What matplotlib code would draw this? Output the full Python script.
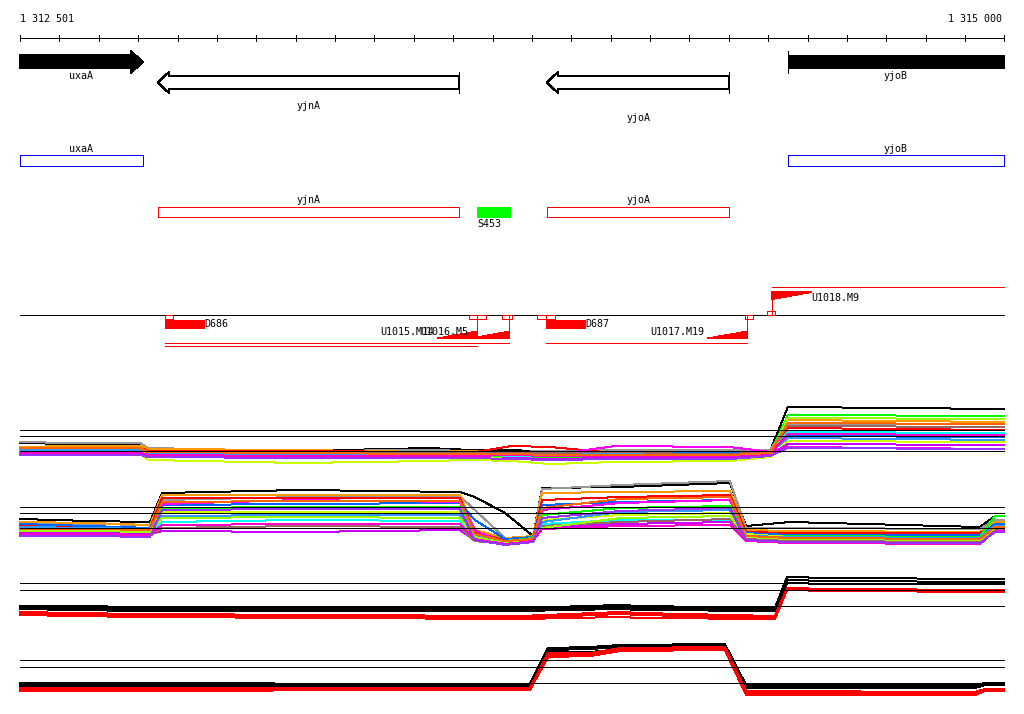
import matplotlib
matplotlib.use("Agg")
import matplotlib.pyplot as plt
from matplotlib.patches import Polygon, Rectangle

W, H = 1024, 714
START, END = 1312501, 1315000
TICK_STEP = 100

# genes of the region
gene_names = ["uxaA", "yjnA", "yjoA", "yjoB"]
gene_starts = [1312400, 1312851, 1313839, 1314451]
gene_ends = [1312813, 1313616, 1314302, 1315200]
gene_strands = ["+", "-", "-", "+"]
gene_label_y = [76, 106, 118, 76]

# small RNA
srna_names = ["S453"]
srna_starts = [1313662]
srna_ends = [1313745]

# upstream / terminator elements
up_names = ["D686", "D687"]
up_starts = [1312869, 1313837]
up_ends = [1312968, 1313936]

term_names = ["U1015.M14", "U1016.M5", "U1017.M19", "U1018.M9"]
term_pos = [1313662, 1313743, 1314347, 1314411]
term_len = [102, 97, 101, 99]
term_strand = ["-", "-", "-", "+"]

site_starts = [1312869, 1313641, 1313662, 1313725, 1313814, 1313837, 1314342, 1314398]
site_ends = [1312890, 1313662, 1313684, 1313750, 1313837, 1313860, 1314363, 1314418]
site_strand = ["-", "-", "-", "-", "-", "-", "-", "+"]

tx_starts = [1312869, 1312869, 1313837, 1314411]
tx_ends = [1313743, 1313662, 1314347, 1315000]
tx_y = [343, 346, 343, 287]

# expression track A (plus strand tiling)
a_x = [1312501, 1312628, 1312806, 1312826, 1313212, 1313542, 1313644,
       1313750, 1313847, 1314012, 1314304, 1314406, 1314451, 1315000]
a_series = [
    [32, 31, 31, 25, 24, 27, 25, 25, 23, 23, 23, 24, 68, 66],
    [33, 32, 32, 27, 24, 25, 24, 23, 24, 25, 25, 25, 51, 51],
    [28, 29, 29, 26, 25, 23, 24, 23, 23, 22, 23, 23, 55, 53],
    [27, 27, 27, 24, 24, 23, 22, 29, 28, 22, 22, 23, 47, 45],
    [25, 25, 25, 23, 22, 23, 23, 22, 21, 23, 22, 23, 39, 38],
    [23, 23, 23, 21, 20, 20, 20, 20, 20, 29, 28, 23, 28, 26],
    [24, 24, 24, 22, 21, 21, 19, 18, 18, 19, 18, 21, 60, 59],
    [22, 22, 22, 15, 12, 14, 15, 14, 11, 13, 14, 18, 34, 33],
    [24, 24, 24, 22, 21, 22, 21, 19, 19, 20, 20, 22, 43, 42],
    [21, 21, 21, 20, 19, 18, 18, 17, 16, 17, 17, 20, 31, 30],
    [26, 26, 26, 23, 23, 22, 22, 22, 22, 22, 21, 23, 49, 48],
    [25, 25, 25, 22, 21, 21, 20, 20, 20, 21, 19, 22, 37, 35],
    [23, 23, 23, 20, 18, 18, 18, 16, 15, 16, 16, 19, 57, 56],
    [22, 22, 22, 20, 19, 19, 19, 20, 19, 19, 19, 21, 41, 40],
    [27, 27, 27, 23, 22, 21, 21, 21, 20, 20, 20, 22, 52, 51],
    [20, 20, 20, 18, 17, 17, 17, 16, 15, 16, 16, 19, 27, 26],
]

# expression track B (minus strand tiling)
b_x = [1312501, 1312679, 1312831, 1312862, 1313212, 1313618, 1313656, 1313733, 1313804,
       1313827, 1314025, 1314304, 1314345, 1314456, 1314939, 1314977, 1315000]
b_series = [
    [33, 31, 30, 59, 62, 60, 55, 39, 16, 64, 65, 69, 26, 30, 25, 36, 36],
    [29, 28, 27, 52, 55, 56, 42, 14, 15, 63, 67, 71, 24, 24, 23, 32, 32],
    [30, 29, 27, 57, 57, 57, 22, 14, 16, 59, 60, 61, 22, 21, 20, 30, 30],
    [26, 25, 24, 54, 54, 54, 19, 12, 14, 52, 55, 57, 20, 19, 19, 27, 27],
    [28, 26, 24, 47, 48, 49, 32, 13, 15, 47, 50, 52, 19, 17, 17, 28, 28],
    [23, 22, 22, 48, 52, 50, 22, 7, 11, 42, 49, 52, 14, 11, 10, 22, 22],
    [24, 24, 23, 44, 45, 45, 17, 11, 14, 37, 44, 46, 17, 16, 15, 36, 36],
    [22, 22, 21, 40, 40, 40, 15, 9, 12, 32, 37, 39, 18, 15, 14, 25, 25],
    [20, 20, 19, 30, 32, 31, 14, 10, 12, 28, 32, 32, 15, 14, 13, 24, 24],
    [19, 19, 18, 21, 20, 22, 12, 8, 11, 25, 28, 30, 14, 13, 12, 23, 23],
    [17, 16, 16, 24, 26, 25, 11, 8, 10, 26, 30, 33, 13, 12, 11, 22, 22],
    [25, 24, 23, 36, 37, 37, 16, 10, 13, 30, 40, 42, 16, 15, 14, 26, 26],
    [21, 21, 20, 34, 35, 34, 15, 9, 12, 24, 34, 36, 15, 13, 12, 24, 24],
    [18, 18, 17, 27, 28, 28, 13, 8, 11, 23, 26, 27, 11, 9, 8, 21, 21],
    [23, 23, 22, 50, 51, 51, 18, 11, 13, 44, 53, 55, 16, 14, 13, 25, 25],
    [16, 16, 15, 42, 43, 43, 12, 7, 10, 34, 41, 44, 12, 10, 9, 20, 20],
]

colors16 = ["black", "#999999", "#ff9900", "#ff0000", "#0066ff", "#ff00ff",
            "#00ff00", "#ccff00", "#00ffff", "#cc00ff", "#996666", "#3399ff",
            "#99ff00", "#ff00cc", "#ff6600", "#9933ff"]

# expression track C (plus strand, two conditions)
c_x = [1312501, 1312641, 1312806, 1313288, 1313771, 1314025, 1314076,
       1314418, 1314449, 1314558, 1315000]
c_series = [
    [22, 22, 21, 21, 20, 23, 22, 20, 51, 50, 49],
    [20, 20, 19, 19, 18, 21, 20, 18, 48, 47, 46],
    [19, 18, 17, 17, 17, 19, 18, 17, 45, 44, 44],
    [16, 15, 14, 13, 12, 16, 15, 12, 40, 39, 38],
    [14, 14, 12, 11, 10, 14, 13, 10, 39, 38, 37],
    [13, 12, 11, 10, 9, 11, 10, 9, 38, 37, 36],
]

# expression track D (minus strand, two conditions)
d_x = [1312501, 1313796, 1313842, 1313949, 1314025, 1314291, 1314345,
       1314926, 1314952, 1315000]
d_series = [
    [22, 21, 57, 58, 60, 61, 20, 20, 22, 22],
    [20, 20, 55, 56, 58, 59, 18, 18, 21, 21],
    [18, 19, 53, 53, 56, 57, 17, 17, 20, 20],
    [17, 17, 52, 52, 57, 58, 14, 13, 16, 16],
    [15, 16, 50, 50, 55, 56, 12, 12, 15, 15],
    [14, 15, 48, 49, 54, 55, 10, 10, 14, 14],
]
colors_cd = ["black", "black", "black", "red", "red", "red"]

ref_ab = [45, 39, 24]
ref_cd = [45, 38, 22]

FONT = "DejaVu Sans Mono"
FS = 7.2
LW = 0.72

bpp = (END - START) / 984
xlim = (START - 20 * bpp, END + 20 * bpp)

fig = plt.figure(figsize=(W / 100, H / 100), dpi=100)
ax = fig.add_axes([0, 0, 1, 1])
ax.set_xlim(xlim)
ax.set_ylim(H, 0)
ax.axis("off")


def outline(s, e, y0, y1, color):
    ax.plot([s, e, e, s, s], [y0, y0, y1, y1, y0], color=color, lw=LW,
            antialiased=False, zorder=3)


# ruler
ax.plot([START, END], [38, 38], color="black", lw=LW, antialiased=False)
for t in range(START, END + 2, TICK_STEP):
    ax.plot([t, t], [35, 41], color="black", lw=LW, antialiased=False)
ax.text(START, 19, "1 312 501", fontsize=FS, family=FONT, ha="left", va="center")
ax.text(END - 1.5 * bpp, 19, "1 315 000", fontsize=FS, family=FONT, ha="right", va="center")

# gene arrows
for name, s0, e0, st, ly in zip(gene_names, gene_starts, gene_ends, gene_strands, gene_label_y):
    s, e = max(s0, START), min(e0, END)
    head = 12 * bpp
    if st == "+":
        y0, y1, h0, h1 = 55, 68, 51, 73
        if e0 <= END:
            pts = [(s, y0), (e - head, y0), (e - head, h0), (e, (h0 + h1) / 2),
                   (e - head, h1), (e - head, y1), (s, y1)]
        else:
            pts = [(s, y0), (e, y0), (e, y1), (s, y1)]
        ax.add_patch(Polygon(pts, closed=True, facecolor="black", edgecolor="black",
                             lw=LW, antialiased=False))
        if s0 >= START:
            ax.plot([s, s], [h0, h1], color="black", lw=LW, antialiased=False)
    else:
        y0, y1, h0, h1 = 76, 89, 72, 93
        head = 11 * bpp
        pts = [(e, y0), (s + head, y0), (s + head, h0), (s, (h0 + h1) / 2),
               (s + head, h1), (s + head, y1), (e, y1)]
        ax.add_patch(Polygon(pts, closed=True, facecolor="white", edgecolor="black",
                             lw=LW, antialiased=False))
        ax.plot([e, e], [h0, h1], color="black", lw=LW, antialiased=False)
    ax.text((s + e) / 2, ly, name, fontsize=FS, family=FONT, ha="center", va="center")

# CDS boxes: plus strand blue, minus strand red
for name, s0, e0, st in zip(gene_names, gene_starts, gene_ends, gene_strands):
    s, e = max(s0, START), min(e0, END)
    if st == "+":
        y0, y1, col, ly = 155, 166, "#0000ff", 149
    else:
        y0, y1, col, ly = 207, 217, "#ff0000", 200
    outline(s, e, y0, y1, col)
    ax.text((s + e) / 2, ly, name, fontsize=FS, family=FONT, ha="center", va="center")

for name, s, e in zip(srna_names, srna_starts, srna_ends):
    ax.add_patch(Rectangle((s, 207), e - s, 10, facecolor="#00ff00", edgecolor="#00ff00",
                           lw=LW, antialiased=False))
    ax.text(s, 224, name, fontsize=FS, family=FONT, ha="left", va="center")

# regulatory elements
ax.plot([START, END], [315, 315], color="black", lw=LW, antialiased=False)
for s, e, y in zip(tx_starts, tx_ends, tx_y):
    ax.plot([s, e], [y, y], color="red", lw=LW, antialiased=False)
for s, e, st in zip(site_starts, site_ends, site_strand):
    y0 = 315 if st == "-" else 311
    outline(s, e, y0, y0 + 4, "red")
for name, s, e in zip(up_names, up_starts, up_ends):
    ax.add_patch(Rectangle((s, 320), e - s, 8, facecolor="red", edgecolor="red",
                           lw=LW, antialiased=False))
    ax.text(e, 324, name, fontsize=FS, family=FONT, ha="left", va="center")
for name, p, L, st in zip(term_names, term_pos, term_len, term_strand):
    if st == "-":
        ax.plot([p, p], [315, 338], color="red", lw=LW, antialiased=False)
        ax.add_patch(Polygon([(p - L, 338), (p, 338), (p, 331)], closed=True,
                             facecolor="red", edgecolor="red", lw=LW, antialiased=False))
        ax.text(p - L - 3 * bpp, 332, name, fontsize=FS, family=FONT, ha="right", va="center")
    else:
        ax.plot([p, p], [315, 292], color="red", lw=LW, antialiased=False)
        ax.add_patch(Polygon([(p, 292), (p + L, 292), (p, 299)], closed=True,
                             facecolor="red", edgecolor="red", lw=LW, antialiased=False))
        ax.text(p + L, 298, name, fontsize=FS, family=FONT, ha="left", va="center")


def track(bottom, xs, series, colors, refs):
    t = fig.add_axes([0, (H - bottom) / H, 1, 80 / H])
    t.set_xlim(xlim)
    t.set_ylim(0, 80)
    t.axis("off")
    t.patch.set_alpha(0)
    for ys, c in zip(series, colors):
        t.plot(xs, ys, color=c, lw=LW, antialiased=False)
    for r in refs:
        t.plot([START, END], [r, r], color="black", lw=LW, antialiased=False, zorder=5)


track(475, a_x, a_series, colors16, ref_ab)
track(552, b_x, b_series, colors16, ref_ab)
track(628, c_x, c_series, colors_cd, ref_cd)
track(705, d_x, d_series, colors_cd, ref_cd)

fig.savefig("out.png", dpi=100)
